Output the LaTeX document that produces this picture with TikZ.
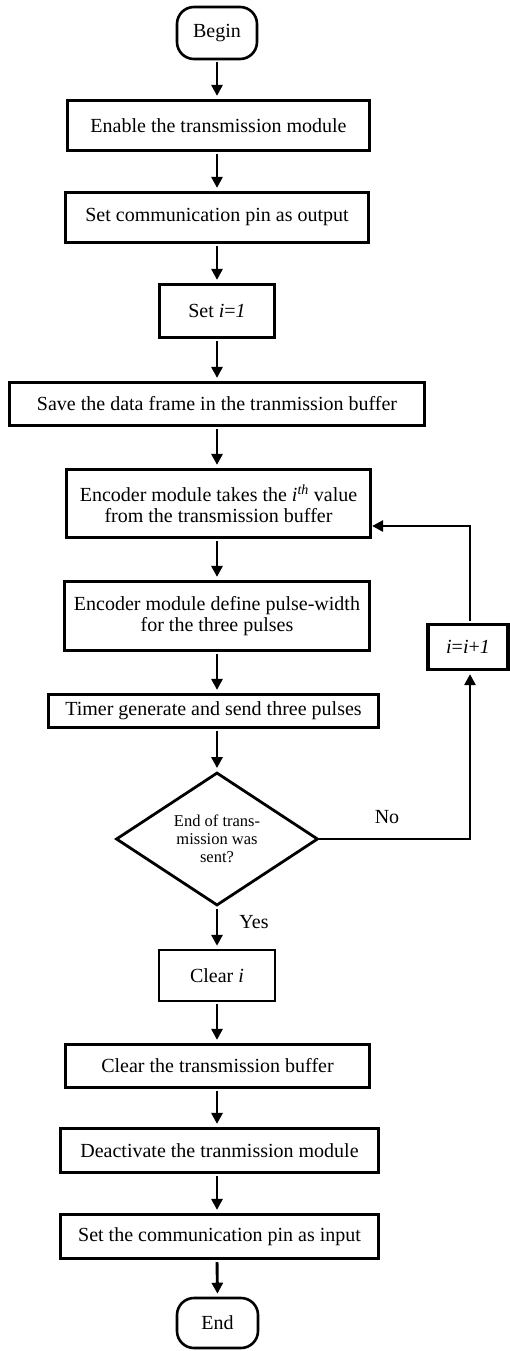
\documentclass[tikz,border=0pt]{standalone}
\usepackage{fontspec}
\setmainfont{Liberation Serif}
\usetikzlibrary{arrows.meta,shapes.geometric}
\begin{document}
\begin{tikzpicture}[x=1pt,y=-1pt,
  every node/.style={font=\fontsize{20}{21}\selectfont, inner sep=0pt, align=center},
  proc/.style={draw, line width=3.2pt, rectangle},
  term/.style={draw, line width=2.6pt, rectangle, rounded corners=17pt},
  decision/.style={draw, line width=2.8pt, diamond, aspect=1.5},
  flow/.style={line width=2.9pt, -{Triangle[length=11pt,width=11pt]}, shorten <=2pt, shorten >=3pt},
  lbl/.style={font=\fontsize{20}{21}\selectfont}
]
\useasboundingbox (0,0) rectangle (510,1351);

% main column
\node[term, minimum width=80, minimum height=52] (begin) at (217,33) {Begin};
\node[proc, minimum width=302, minimum height=50] (enable) at (218.5,125.5) {Enable the transmission module};
\node[proc, minimum width=303, minimum height=50] (setout) at (217,217.5) {Set communication pin as output};
\node[proc, minimum width=115, minimum height=53] (seti) at (217,311) {Set \textit{i}=\textit{1}};
\node[proc, minimum width=415, minimum height=43] (save) at (217,404) {Save the data frame in the tranmission buffer};
\node[proc, minimum width=304, minimum height=68] (enc1) at (218.5,503.5) {Encoder module takes the \textit{i}\textsuperscript{\textit{th}} value\\from the transmission buffer};
\node[proc, minimum width=305, minimum height=69] (enc2) at (217,616) {Encoder module define pulse-width\\for the three pulses};
\node[proc, minimum width=80, minimum height=45] (inc) at (468,647) {\textit{i}=\textit{i}+\textit{1}};
\node[proc, minimum width=330, minimum height=33] (timer) at (213.5,711) {Timer generate and send three pulses};
\node[decision, minimum width=202, minimum height=133,
      font=\fontsize{16.5}{18}\selectfont] (dec) at (217,839) {End of trans-\\mission was\\sent?};
\node[proc, line width=2.4pt, minimum width=116, minimum height=51] (cleari) at (217,975.5) {Clear \textit{i}};
\node[proc, minimum width=304, minimum height=43] (clearbuf) at (217.5,1066) {Clear the transmission buffer};
\node[proc, minimum width=318, minimum height=44] (deact) at (219.5,1150.5) {Deactivate the tranmission module};
\node[proc, minimum width=318, minimum height=44] (setin) at (219.5,1236.5) {Set the communication pin as input};
\node[term, minimum width=81, minimum height=50] (end) at (217.5,1323) {End};

% straight downward flow
\draw[flow] (begin.south) -- (begin.south |- enable.north);
\draw[flow] (begin.south |- enable.south) -- (begin.south |- setout.north);
\draw[flow] (seti.north |- setout.south) -- (seti.north);
\draw[flow] (seti.south) -- (seti.south |- save.north);
\draw[flow] (seti.south |- save.south) -- (seti.south |- enc1.north);
\draw[flow] (seti.south |- enc1.south) -- (seti.south |- enc2.north);
\draw[flow] (seti.south |- enc2.south) -- (seti.south |- timer.north);
\draw[flow] (seti.south |- timer.south) -- (dec.north);
\draw[flow] (dec.south) -- (cleari.north);
\draw[flow] (cleari.south) -- (cleari.south |- clearbuf.north);
\draw[flow] (cleari.south |- clearbuf.south) -- (cleari.south |- deact.north);
\draw[flow] (cleari.south |- deact.south) -- (cleari.south |- setin.north);
\draw[flow] (cleari.south |- setin.south) -- (end.north);

% loop back for the next value
\coordinate (nocorner) at (470,839);
\coordinate (backcorner) at (470,526);
\draw[flow, shorten <=0pt] (dec.east) -- (nocorner) -- (nocorner |- inc.south);
\draw[flow, shorten <=2pt, shorten >=0pt] (nocorner |- inc.north) -- (backcorner) -- (backcorner -| enc1.east);

% branch labels
\node[lbl] (nolbl) at (387,817) {No};
\node[lbl] (yeslbl) at (254,922) {Yes};
\end{tikzpicture}
\end{document}
